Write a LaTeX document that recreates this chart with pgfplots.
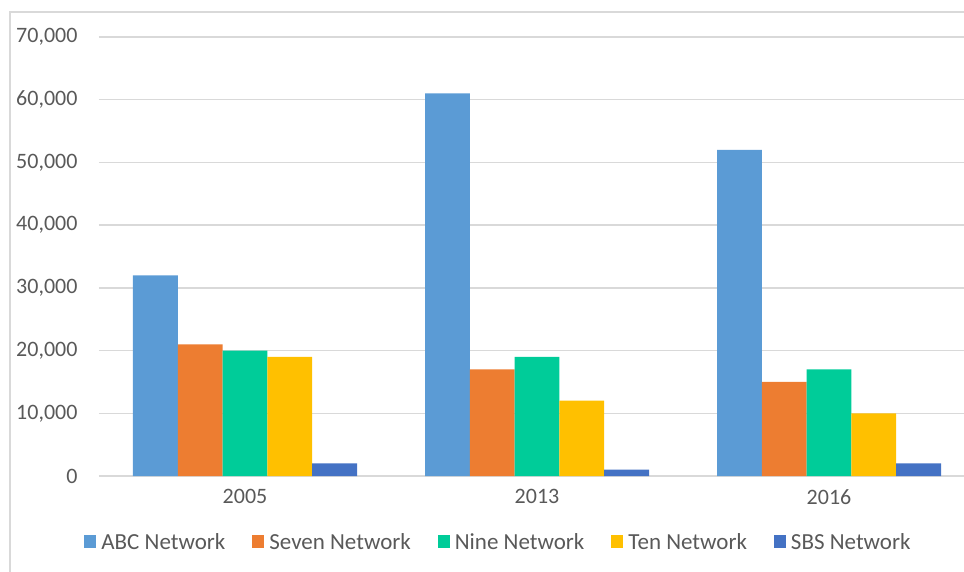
\documentclass[border=0pt]{standalone}
\usepackage{pgfplots}
\pgfplotsset{compat=1.18}
\usepackage{fontspec}
\setmainfont{Carlito}
\definecolor{cabc}{HTML}{5B9BD5}
\definecolor{cseven}{HTML}{ED7D31}
\definecolor{cnine}{HTML}{00CC99}
\definecolor{cten}{HTML}{FFC000}
\definecolor{csbs}{HTML}{4472C4}
\definecolor{gridgray}{HTML}{D9D9D9}
\definecolor{txtgray}{HTML}{595959}
\begin{document}
\begin{tikzpicture}[x=1pt,y=1pt]
\draw[gridgray, line width=1.5pt] (-89,-200) -- (-89,464) -- (1000,464);
\begin{axis}[
  at={(0,0)}, anchor=south west,
  scale only axis, width=876pt, height=439pt,
  xmin=-0.5, xmax=2.5, ymin=0, ymax=70000,
  ybar=0pt, bar width=44.8pt,
  xtick={0,1,2}, xticklabels={2005,2013,2016},
  ytick={0,10000,20000,30000,40000,50000,60000,70000},
  scaled y ticks=false,
  yticklabel style={/pgf/number format/fixed, /pgf/number format/1000 sep={,}, xshift=-18pt},
  major tick length=0pt,
  axis y line*=left,
  y axis line style={draw=none},
  axis x line*=bottom,
  x axis line style={draw=gridgray, line width=1.5pt},
  ymajorgrids, grid style={draw=gridgray, line width=1.3pt},
  font=\fontsize{22}{26}\selectfont,
  tick label style={text=txtgray, font=\fontsize{22}{26}\selectfont},
  xticklabel style={yshift=-10pt},
  /pgf/number format/.cd, 1000 sep={,}, assume math mode=true,
  /pgfplots/.cd,
  legend columns=5,
  legend style={at={(0.456,-0.150)}, anchor=center, draw=none, fill=none,
    text=txtgray, font=\fontsize{23}{27}\selectfont,
    /tikz/every odd column/.append style={column sep=3pt},
    /tikz/every even column/.append style={column sep=25pt},
    inner sep=0pt, nodes={inner sep=2pt}},
  legend image code/.code={\fill[#1] (0pt,-6.5pt) rectangle (12pt,6.5pt);},
]
\addplot[fill=cabc, draw=none] coordinates {(0,32000) (1,61000) (2,52000)};
\addplot[fill=cseven, draw=none] coordinates {(0,21000) (1,17000) (2,15000)};
\addplot[fill=cnine, draw=none] coordinates {(0,20000) (1,19000) (2,17000)};
\addplot[fill=cten, draw=none] coordinates {(0,19000) (1,12000) (2,10000)};
\addplot[fill=csbs, draw=none] coordinates {(0,2000) (1,1000) (2,2000)};
\legend{ABC Network, Seven Network, Nine Network, Ten Network, SBS Network}
\end{axis}
\pgfresetboundingbox
\useasboundingbox (-99,-95) rectangle (865,476);
\end{tikzpicture}
\end{document}
